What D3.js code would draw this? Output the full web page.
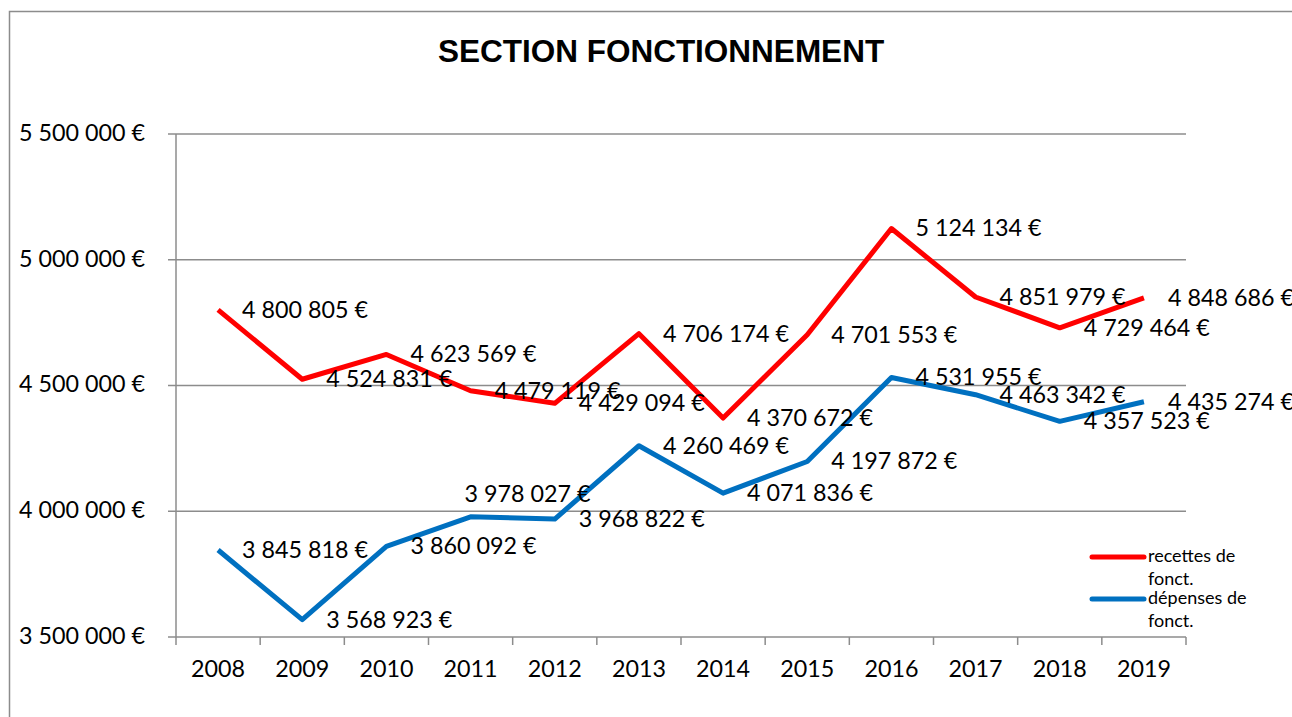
<!DOCTYPE html>
<html>
<head>
<meta charset="utf-8">
<script src="https://cdn.jsdelivr.net/npm/d3@7"></script>
<style>
  body { margin: 0; background: #fff; }
  svg { display: block; }
  text { font-family: Lato, "Liberation Sans", sans-serif; fill: #000; }
</style>
</head>
<body>
<svg id="chart" width="1292" height="717"></svg>
<script>
// data
var years = ["2008","2009","2010","2011","2012","2013","2014","2015","2016","2017","2018","2019"];
var recettes = [4800805, 4524831, 4623569, 4479119, 4429094, 4706174, 4370672, 4701553, 5124134, 4851979, 4729464, 4848686];
var depenses = [3845818, 3568923, 3860092, 3978027, 3968822, 4260469, 4071836, 4197872, 4531955, 4463342, 4357523, 4435274];
var yTicks = [3500000, 4000000, 4500000, 5000000, 5500000];
var seriesNames = ["recettes de fonct.", "dépenses de fonct."];
var seriesColors = ["#ff0000", "#0070c0"];

var svg = d3.select("#chart");

// outer frame of the chart area
svg.append("rect")
  .attr("x", 9.5).attr("y", 11.5)
  .attr("width", 1300).attr("height", 720)
  .attr("fill", "none").attr("stroke", "#8c8c8c").attr("stroke-width", 1.5);

var plotL = 176, plotR = 1186, plotT = 134, plotB = 637;

var x = d3.scaleBand().domain(years).range([plotL, plotR]);
var y = d3.scaleLinear().domain([3500000, 5500000]).range([plotB, plotT]);

function fmt(v) {
  return d3.format(",")(v).replace(/,/g, " ") + " €";
}

// title
svg.append("text")
  .attr("x", 661).attr("y", 62)
  .attr("text-anchor", "middle")
  .style("font-family", "'Liberation Sans', Arial, sans-serif")
  .style("font-weight", "bold")
  .style("font-size", "31.5px")
  .text("SECTION FONCTIONNEMENT");

// grid lines
svg.append("g")
  .selectAll("line")
  .data(yTicks)
  .join("line")
  .attr("x1", plotL - 8).attr("x2", plotR)
  .attr("y1", function(d) { return y(d); })
  .attr("y2", function(d) { return y(d); })
  .attr("stroke", "#8c8c8c").attr("stroke-width", 1.5);

// y axis line
svg.append("line")
  .attr("x1", plotL).attr("x2", plotL)
  .attr("y1", plotT).attr("y2", plotB)
  .attr("stroke", "#8c8c8c").attr("stroke-width", 1.5);

// y labels
svg.append("g")
  .selectAll("text")
  .data(yTicks)
  .join("text")
  .attr("x", 145)
  .attr("y", function(d) { return y(d) + 1; })
  .attr("text-anchor", "end")
  .attr("dominant-baseline", "middle")
  .style("font-size", "23.3px")
  .text(fmt);

// x axis ticks (category boundaries)
var bounds = years.map(function(d) { return x(d); }).concat([plotR]);
svg.append("g")
  .selectAll("line")
  .data(bounds)
  .join("line")
  .attr("x1", function(d) { return d; }).attr("x2", function(d) { return d; })
  .attr("y1", plotB).attr("y2", plotB + 8)
  .attr("stroke", "#8c8c8c").attr("stroke-width", 1.5);

svg.append("g")
  .selectAll("text")
  .data(years)
  .join("text")
  .attr("x", function(d) { return x(d) + x.bandwidth() / 2; })
  .attr("y", 671)
  .attr("text-anchor", "middle")
  .attr("dominant-baseline", "middle")
  .style("font-size", "23.3px")
  .text(function(d) { return d; });

// lines
var cx = function(d, i) { return x(years[i]) + x.bandwidth() / 2; };
var line = d3.line()
  .x(cx)
  .y(function(d) { return y(d); });

[recettes, depenses].forEach(function(vals, s) {
  svg.append("path")
    .datum(vals)
    .attr("d", line)
    .attr("fill", "none")
    .attr("stroke", seriesColors[s])
    .attr("stroke-width", 5)
    .attr("stroke-linejoin", "round");
});

// data labels (right of point; one label was moved above)
[recettes, depenses].forEach(function(vals, s) {
  svg.append("g")
    .selectAll("text")
    .data(vals)
    .join("text")
    .attr("x", function(d, i) {
      if (s === 1 && i === 3) return cx(d, i) + 57;
      return cx(d, i) + 24;
    })
    .attr("y", function(d, i) {
      if (s === 1 && i === 3) return y(d) - 21;
      return y(d) + 2;
    })
    .attr("text-anchor", function(d, i) { return (s === 1 && i === 3) ? "middle" : "start"; })
    .attr("dominant-baseline", "middle")
    .style("font-size", "23.3px")
    .text(fmt);
});

// legend
var legend = svg.append("g");
seriesNames.forEach(function(name, i) {
  var ly = 557 + i * 42;
  legend.append("line")
    .attr("x1", 1092).attr("x2", 1144)
    .attr("y1", ly).attr("y2", ly)
    .attr("stroke", seriesColors[i]).attr("stroke-width", 5)
    .attr("stroke-linecap", "round");
  var words = name.split(" ");
  legend.append("text")
    .attr("x", 1148).attr("y", ly)
    .attr("dominant-baseline", "middle")
    .style("font-size", "18px")
    .text(words[0] + " " + words[1]);
  legend.append("text")
    .attr("x", 1148).attr("y", ly + 23)
    .attr("dominant-baseline", "middle")
    .style("font-size", "18px")
    .text(words[2]);
});
</script>
</body>
</html>
